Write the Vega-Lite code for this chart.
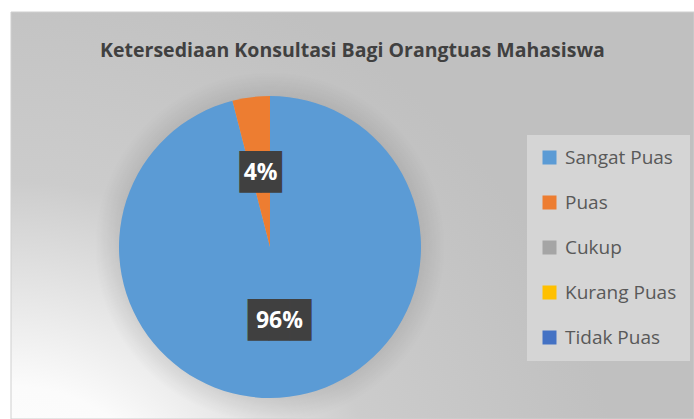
{
  "$schema": "https://vega.github.io/schema/vega-lite/v6.json",
  "width": 683,
  "height": 407,
  "autosize": {"type": "none"},
  "padding": {"left": 11, "top": 12, "right": 0, "bottom": 0},
  "background": "#ffffff",
  "title": {
    "text": "Ketersediaan Konsultasi Bagi Orangtuas Mahasiswa",
    "font": "Open Sans",
    "fontSize": 19.5,
    "fontWeight": "bold",
    "color": "#404040",
    "anchor": "middle",
    "offset": -50
  },
  "data": {
    "values": [
      {"kategori": "Sangat Puas", "value": 96},
      {"kategori": "Puas", "value": 4},
      {"kategori": "Cukup", "value": 0},
      {"kategori": "Kurang Puas", "value": 0},
      {"kategori": "Tidak Puas", "value": 0}
    ]
  },
  "layer": [
    {
      "data": {"values": [{}]},
      "mark": {
        "type": "rect",
        "x": 0,
        "y": 0,
        "x2": "width",
        "y2": "height",
        "stroke": "#cfcfcf",
        "strokeWidth": 1,
        "fill": {
          "gradient": "radial",
          "x1": 0, "y1": 1, "r1": 0,
          "x2": 0, "y2": 1, "r2": 1,
          "stops": [
            {"offset": 0, "color": "#ffffff"},
            {"offset": 0.25, "color": "#fbfbfb"},
            {"offset": 0.55, "color": "#cccccc"},
            {"offset": 0.9, "color": "#c0c0c0"},
            {"offset": 1, "color": "#c0c0c0"}
          ]
        }
      },
      "encoding": {}
    },
    {
      "data": {"values": [{}]},
      "mark": {
        "type": "arc",
        "x": 259,
        "y": 235,
        "outerRadius": 175,
        "theta": 0,
        "theta2": 6.2832,
        "fill": {
          "gradient": "radial",
          "x1": 0.5, "y1": 0.5, "r1": 0,
          "x2": 0.5, "y2": 0.5, "r2": 0.5,
          "stops": [
            {"offset": 0, "color": "rgba(0,0,0,0.09)"},
            {"offset": 0.86, "color": "rgba(0,0,0,0.09)"},
            {"offset": 1, "color": "rgba(0,0,0,0)"}
          ]
        }
      },
      "encoding": {}
    },
    {
      "mark": {"type": "arc", "x": 259, "y": 235, "outerRadius": 151},
      "encoding": {
        "theta": {"field": "value", "type": "quantitative", "stack": true},
        "order": {"field": "value", "type": "quantitative", "sort": "descending"},
        "color": {
          "field": "kategori",
          "type": "nominal",
          "scale": {
            "domain": ["Sangat Puas", "Puas", "Cukup", "Kurang Puas", "Tidak Puas"],
            "range": ["#5b9bd5", "#ed7d31", "#a5a5a5", "#ffc000", "#4472c4"]
          },
          "legend": {"title": null}
        }
      }
    },
    {
      "transform": [
        {"filter": "datum.value > 0"},
        {"calculate": "datum.value < 10 ? '██' : '███'", "as": "box"}
      ],
      "mark": {"type": "text", "x": 259, "y": 235, "radius": 75, "font": "DejaVu Sans Mono", "fontSize": 35, "color": "#404040", "baseline": "middle", "align": "center"},
      "encoding": {
        "theta": {"field": "value", "type": "quantitative", "stack": true},
        "order": {"field": "value", "type": "quantitative", "sort": "descending"},
        "text": {"field": "box"}
      }
    },
    {
      "transform": [
        {"filter": "datum.value > 0"},
        {"calculate": "datum.value + '%'", "as": "label"}
      ],
      "mark": {"type": "text", "x": 259, "y": 235, "radius": 75, "font": "Open Sans", "fontSize": 23, "fontWeight": "bold", "color": "#ffffff", "baseline": "middle", "align": "center"},
      "encoding": {
        "theta": {"field": "value", "type": "quantitative", "stack": true},
        "order": {"field": "value", "type": "quantitative", "sort": "descending"},
        "text": {"field": "label"}
      }
    }
  ],
  "config": {
    "view": {"stroke": null},
    "legend": {
      "orient": "none",
      "legendX": 516,
      "legendY": 123,
      "fillColor": "#d5d5d5",
      "padding": 13,
      "symbolType": "square",
      "symbolSize": 196,
      "symbolStrokeWidth": 0,
      "symbolOpacity": 1,
      "labelFont": "Open Sans",
      "labelFontSize": 19,
      "labelColor": "#595959",
      "labelOffset": 6,
      "labelLimit": 300,
      "rowPadding": 25
    }
  }
}
